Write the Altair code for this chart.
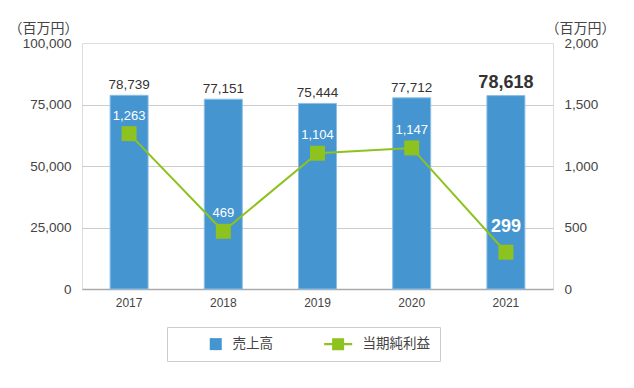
import altair as alt
import pandas as pd

years = ["2017", "2018", "2019", "2020", "2021"]
sales = [78739, 77151, 75444, 77712, 78618]
profit = [1263, 469, 1104, 1147, 299]
series = ["売上高", "当期純利益"]
left_ticks = [0, 25000, 50000, 75000, 100000]
right_ticks = [0, 500, 1000, 1500, 2000]
unit_label = "（百万円）"

BLUE = "#4595d1"
GREEN = "#8dc21f"
TEXT = "#444444"
FONT = "Liberation Sans, Noto Sans CJK JP, sans-serif"
GREEN_SYMBOL = "M-3.6,-0.17H1.07V0.17H-3.6Z M-2.27,-1H-0.27V1H-2.27Z"

latest = [y == years[-1] for y in years]
bar_df = pd.DataFrame({"year": years, "value": sales, "series": series[0], "latest": latest})
line_df = pd.DataFrame({"year": years, "value": profit, "series": series[1], "latest": latest})

x = alt.X(
    "year:N",
    scale=alt.Scale(domain=years, paddingInner=0.6, paddingOuter=0.3),
    axis=alt.Axis(title=None, labelAngle=0, ticks=False, labelPadding=8,
                  labelFontSize=12, labelColor=TEXT, domainColor="#aaaaaa",
                  domainWidth=1.5, grid=False),
)

legend = alt.Legend(
    title=None, orient="none", legendX=85, legendY=284, direction="horizontal",
    strokeColor="#cccccc", padding=10, symbolSize=144, symbolStrokeWidth=0,
    symbolOffset=32,
    labelFontSize=13.5, labelColor=TEXT, labelOffset=10, columnPadding=34,
    labelFont=FONT,
    labelExpr="datum.label == '当期純利益' ? datum.label + '\u3000\u3000\u3000\u2002' : datum.label",
)
color = alt.Color("series:N", scale=alt.Scale(domain=series, range=[BLUE, GREEN]), legend=legend)
shape = alt.Shape("series:N", scale=alt.Scale(domain=series, range=["square", GREEN_SYMBOL]), legend=legend)

y_left = alt.Y(
    "value:Q",
    scale=alt.Scale(domain=[0, 100000]),
    axis=alt.Axis(
        values=left_ticks, labelExpr="format(datum.value, ',')", domain=False, ticks=False,
        labelPadding=11, labelFontSize=13.5, labelColor=TEXT, gridColor="#cccccc",
        gridOpacity={"condition": {"test": "datum.value >= 100000", "value": 0}, "value": 1},
        title=unit_label, titleAngle=0, titleAlign="right", titleBaseline="middle",
        titleX=-4, titleY=-15, titleFontSize=14, titleFontWeight="normal", titleColor=TEXT,
    ),
)
y_right = alt.Y(
    "value:Q",
    scale=alt.Scale(domain=[0, 2000]),
    axis=alt.Axis(
        orient="right", values=right_ticks, labelExpr="format(datum.value, ',')",
        domain=False, ticks=False,
        labelPadding=11, labelFontSize=13.5, labelColor=TEXT, grid=False,
        title=unit_label, titleAngle=0, titleAlign="left", titleBaseline="middle",
        titleX=-8, titleY=-15, titleFontSize=14, titleFontWeight="normal", titleColor=TEXT,
    ),
)

bars = alt.Chart(bar_df).mark_bar(size=38, stroke="#8cbfe6", strokeWidth=1).encode(x=x, y=y_left, color=color)
bar_text = alt.Chart(bar_df).transform_filter("!datum.latest").mark_text(
    baseline="alphabetic", dy=-6, fontSize=13.5, color="#333333", font=FONT
).encode(x=x, y=y_left, text=alt.Text("value:Q", format=","))
bar_text_bold = alt.Chart(bar_df).transform_filter("datum.latest").mark_text(
    baseline="alphabetic", dy=-8, fontSize=18, fontWeight="bold", color="#333333", font=FONT
).encode(x=x, y=y_left, text=alt.Text("value:Q", format=","))

left_group = alt.layer(bars, bar_text, bar_text_bold)

line = alt.Chart(line_df).mark_line(color=GREEN, strokeWidth=2).encode(x=x, y=y_right)
points = alt.Chart(line_df).mark_point(shape="square", size=225, filled=True, opacity=1, color=GREEN).encode(x=x, y=y_right)
legend_points = alt.Chart(line_df).transform_filter("datum.value < 0").mark_point(filled=True, opacity=1).encode(
    x=x, y=y_right, color=color, shape=shape
)
line_text = alt.Chart(line_df).transform_filter("!datum.latest").mark_text(
    baseline="alphabetic", dy=-14, fontSize=13, color="white", font=FONT
).encode(x=x, y=y_right, text=alt.Text("value:Q", format=","))
line_text_bold = alt.Chart(line_df).transform_filter("datum.latest").mark_text(
    baseline="alphabetic", dy=-20, fontSize=18, fontWeight="bold", color="white", font=FONT
).encode(x=x, y=y_right, text=alt.Text("value:Q", format=","))

right_group = alt.layer(line, points, line_text, line_text_bold, legend_points)

chart = (
    alt.layer(left_group, right_group)
    .resolve_scale(y="independent")
    .properties(
        width=471, height=246, autosize="none",
        padding={"left": 74, "top": 35, "right": 73, "bottom": 91},
    )
    .configure_view(stroke=None)
    .configure(font=FONT)
    .configure_axis(labelFont=FONT, titleFont=FONT)
)

chart.save("out.html", embed_options={"renderer": "svg", "actions": False})
